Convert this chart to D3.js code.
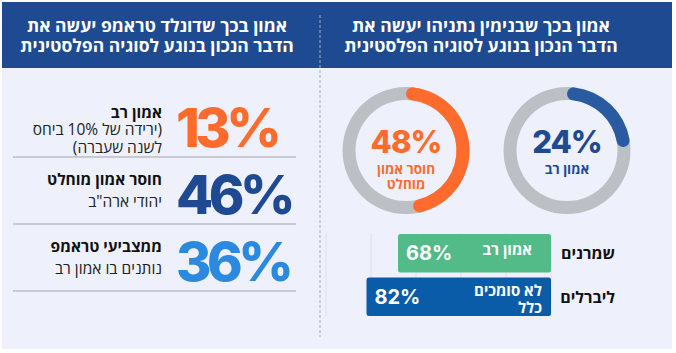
<!DOCTYPE html>
<html>
<head>
<meta charset="utf-8">
<script src="https://cdn.jsdelivr.net/npm/d3@7"></script>
<style>
  body { margin: 0; background: #ffffff; }
  svg { display: block; }
  .heb { font-family: "Open Sans", "Liberation Sans", "DejaVu Sans", sans-serif; }
  .num { font-family: "Inter", "Open Sans", "Liberation Sans", sans-serif; }
</style>
</head>
<body>
<div id="chart"></div>
<script>
// titles of the two panels
const headerLeft = ["אמון בכך שדונלד טראמפ יעשה את", "הדבר הנכון בנוגע לסוגיה הפלסטינית"];
const headerRight = ["אמון בכך שבנימין נתניהו יעשה את", "הדבר הנכון בנוגע לסוגיה הפלסטינית"];

// left panel: big numbers
const statValues = [13, 46, 36];
const statTitles = ["אמון רב", "חוסר אמון מוחלט", "ממצביעי טראמפ"];
const statNotes = [["(ירידה של 10% ביחס", "לשנה שעברה)"], ["יהודי ארה\"ב"], ["נותנים בו אמון רב"]];

// right panel: donuts
const donutValues = [48, 24];
const donutLabels = [["חוסר אמון", "מוחלט"], ["אמון רב"]];

// right panel: bars
const barCategories = ["שמרנים", "ליברלים"];
const barValues = [68, 82];
const barLabels = [["אמון רב"], ["לא סומכים", "כלל"]];
const barTicks = [0, 20, 40, 60, 80, 100];

const statColors = ["#ff6b2c", "#1f4a91", "#2b8ae0"];
const donutColors = ["#ff6b2c", "#2a5aa0"];
const donutTextColors = ["#ff6b2c", "#1f4a91"];
const barColors = ["#52bb87", "#0b5ca8"];

const W = 676, H = 353;

const svg = d3.select("#chart").append("svg")
    .attr("width", W)
    .attr("height", H);

// backgrounds
svg.append("rect").attr("x", 2).attr("y", 68).attr("width", 670).attr("height", 281).attr("fill", "#eef1fb");
svg.append("rect").attr("x", 2).attr("y", 2).attr("width", 670).attr("height", 66).attr("fill", "#1e4a91");

// dashed divider between panels
svg.append("line")
    .attr("x1", 320).attr("x2", 320)
    .attr("y1", 15).attr("y2", 337)
    .attr("stroke", "#a9adb6")
    .attr("stroke-width", 1)
    .attr("stroke-dasharray", "3,2");

// header texts
function header(lines, cx) {
    lines.forEach((t, i) => {
        svg.append("text")
            .attr("class", "heb")
            .attr("x", cx)
            .attr("y", 32 + i * 20)
            .attr("text-anchor", "middle")
            .attr("fill", "#ffffff")
            .attr("font-size", 17.5)
            .attr("font-weight", 700)
            .text(t);
    });
}
header(headerLeft, 157);
header(headerRight, 481);

// ---- left panel rows ----
const rowScale = d3.scaleBand()
    .domain(d3.range(statValues.length))
    .range([90, 291]);

statValues.forEach((v, i) => {
    const y0 = rowScale(i);
    svg.append("text")
        .attr("class", "num")
        .attr("x", 176)
        .attr("y", y0 + 57)
        .attr("fill", statColors[i])
        .attr("font-size", 54)
        .attr("font-weight", 800)
        .attr("letter-spacing", -4.5)
        .text(v + "%");

    svg.append("text")
        .attr("class", "heb")
        .attr("x", 162)
        .attr("y", y0 + 28)
        .attr("text-anchor", "end")
        .attr("fill", "#111")
        .attr("font-size", 15.5)
        .attr("font-weight", 700)
        .text(statTitles[i]);

    const notes = statNotes[i];
    const start = notes.length > 1 ? 45 : 50;
    notes.forEach((n, k) => {
        // right-to-left paragraph: "start" sits on the right edge
        svg.append("text")
            .attr("class", "heb")
            .attr("x", 162)
            .attr("y", y0 + start + k * 18)
            .attr("direction", "rtl")
            .attr("text-anchor", "start")
            .attr("fill", "#222")
            .attr("font-size", 15.5)
            .text(n);
    });

    // separator below each row
    svg.append("line")
        .attr("x1", 13).attr("x2", 296)
        .attr("y1", y0 + rowScale.bandwidth()).attr("y2", y0 + rowScale.bandwidth())
        .attr("stroke", "#b8bcc4")
        .attr("stroke-width", 1.5);
});

// ---- donuts ----
const angle = d3.scaleLinear().domain([0, 100]).range([0, 2 * Math.PI]);
const donutX = d3.scalePoint().domain(d3.range(donutValues.length)).range([406, 567]);
const ring = d3.arc().innerRadius(50.5).outerRadius(63.5);
const valueArc = d3.arc().innerRadius(50.5).outerRadius(63.5).cornerRadius(6.5);

donutValues.forEach((v, i) => {
    const g = svg.append("g").attr("transform", `translate(${donutX(i)},150.5)`);
    g.append("path")
        .attr("d", ring({ startAngle: 0, endAngle: 2 * Math.PI }))
        .attr("fill", "#bcc0c5");
    g.append("path")
        .attr("d", valueArc({ startAngle: 0, endAngle: angle(v) }))
        .attr("fill", donutColors[i]);

    g.append("text")
        .attr("class", "num")
        .attr("x", 0)
        .attr("y", 2)
        .attr("text-anchor", "middle")
        .attr("fill", donutTextColors[i])
        .attr("font-size", 31)
        .attr("font-weight", 800)
        .attr("letter-spacing", -1)
        .text(v + "%");

    donutLabels[i].forEach((t, k) => {
        g.append("text")
            .attr("class", "heb")
            .attr("x", 0)
            .attr("y", 23 + k * 15)
            .attr("text-anchor", "middle")
            .attr("fill", donutTextColors[i])
            .attr("font-size", 13.5)
            .attr("font-weight", 700)
            .text(t);
    });
});

// ---- bars ----
const x = d3.scaleLinear().domain([0, 100]).range([551, 326]);
const y = d3.scaleBand().domain(barCategories).range([234, 316]).paddingInner(0.12);

svg.append("g")
    .selectAll("line")
    .data(barTicks)
    .join("line")
    .attr("x1", d => x(d)).attr("x2", d => x(d))
    .attr("y1", 233).attr("y2", 316)
    .attr("stroke", "#dde0e8")
    .attr("stroke-width", 1);

barCategories.forEach((c, i) => {
    const by = y(c), bh = y.bandwidth();
    svg.append("rect")
        .attr("x", x(barValues[i]))
        .attr("y", by)
        .attr("width", x(0) - x(barValues[i]))
        .attr("height", bh)
        .attr("rx", 2.5)
        .attr("fill", barColors[i]);

    svg.append("text")
        .attr("class", "num")
        .attr("x", x(barValues[i]) + 8)
        .attr("y", by + bh / 2 + 7)
        .attr("fill", "#ffffff")
        .attr("font-size", 20)
        .attr("font-weight", 700)
        .text(barValues[i] + "%");

    const lines = barLabels[i];
    lines.forEach((t, k) => {
        svg.append("text")
            .attr("class", "heb")
            .attr("x", x(0) - (lines.length > 1 ? 9 : 19))
            .attr("y", by + (lines.length > 1 ? 18 : 21) + k * 17)
            .attr("text-anchor", "end")
            .attr("fill", "#ffffff")
            .attr("font-size", 15)
            .attr("font-weight", 700)
            .text(t);
    });

    svg.append("text")
        .attr("class", "heb")
        .attr("x", 615)
        .attr("y", by + bh / 2 + 6)
        .attr("text-anchor", "end")
        .attr("fill", "#111")
        .attr("font-size", 16)
        .attr("font-weight", 700)
        .text(c);
});
</script>
</body>
</html>
